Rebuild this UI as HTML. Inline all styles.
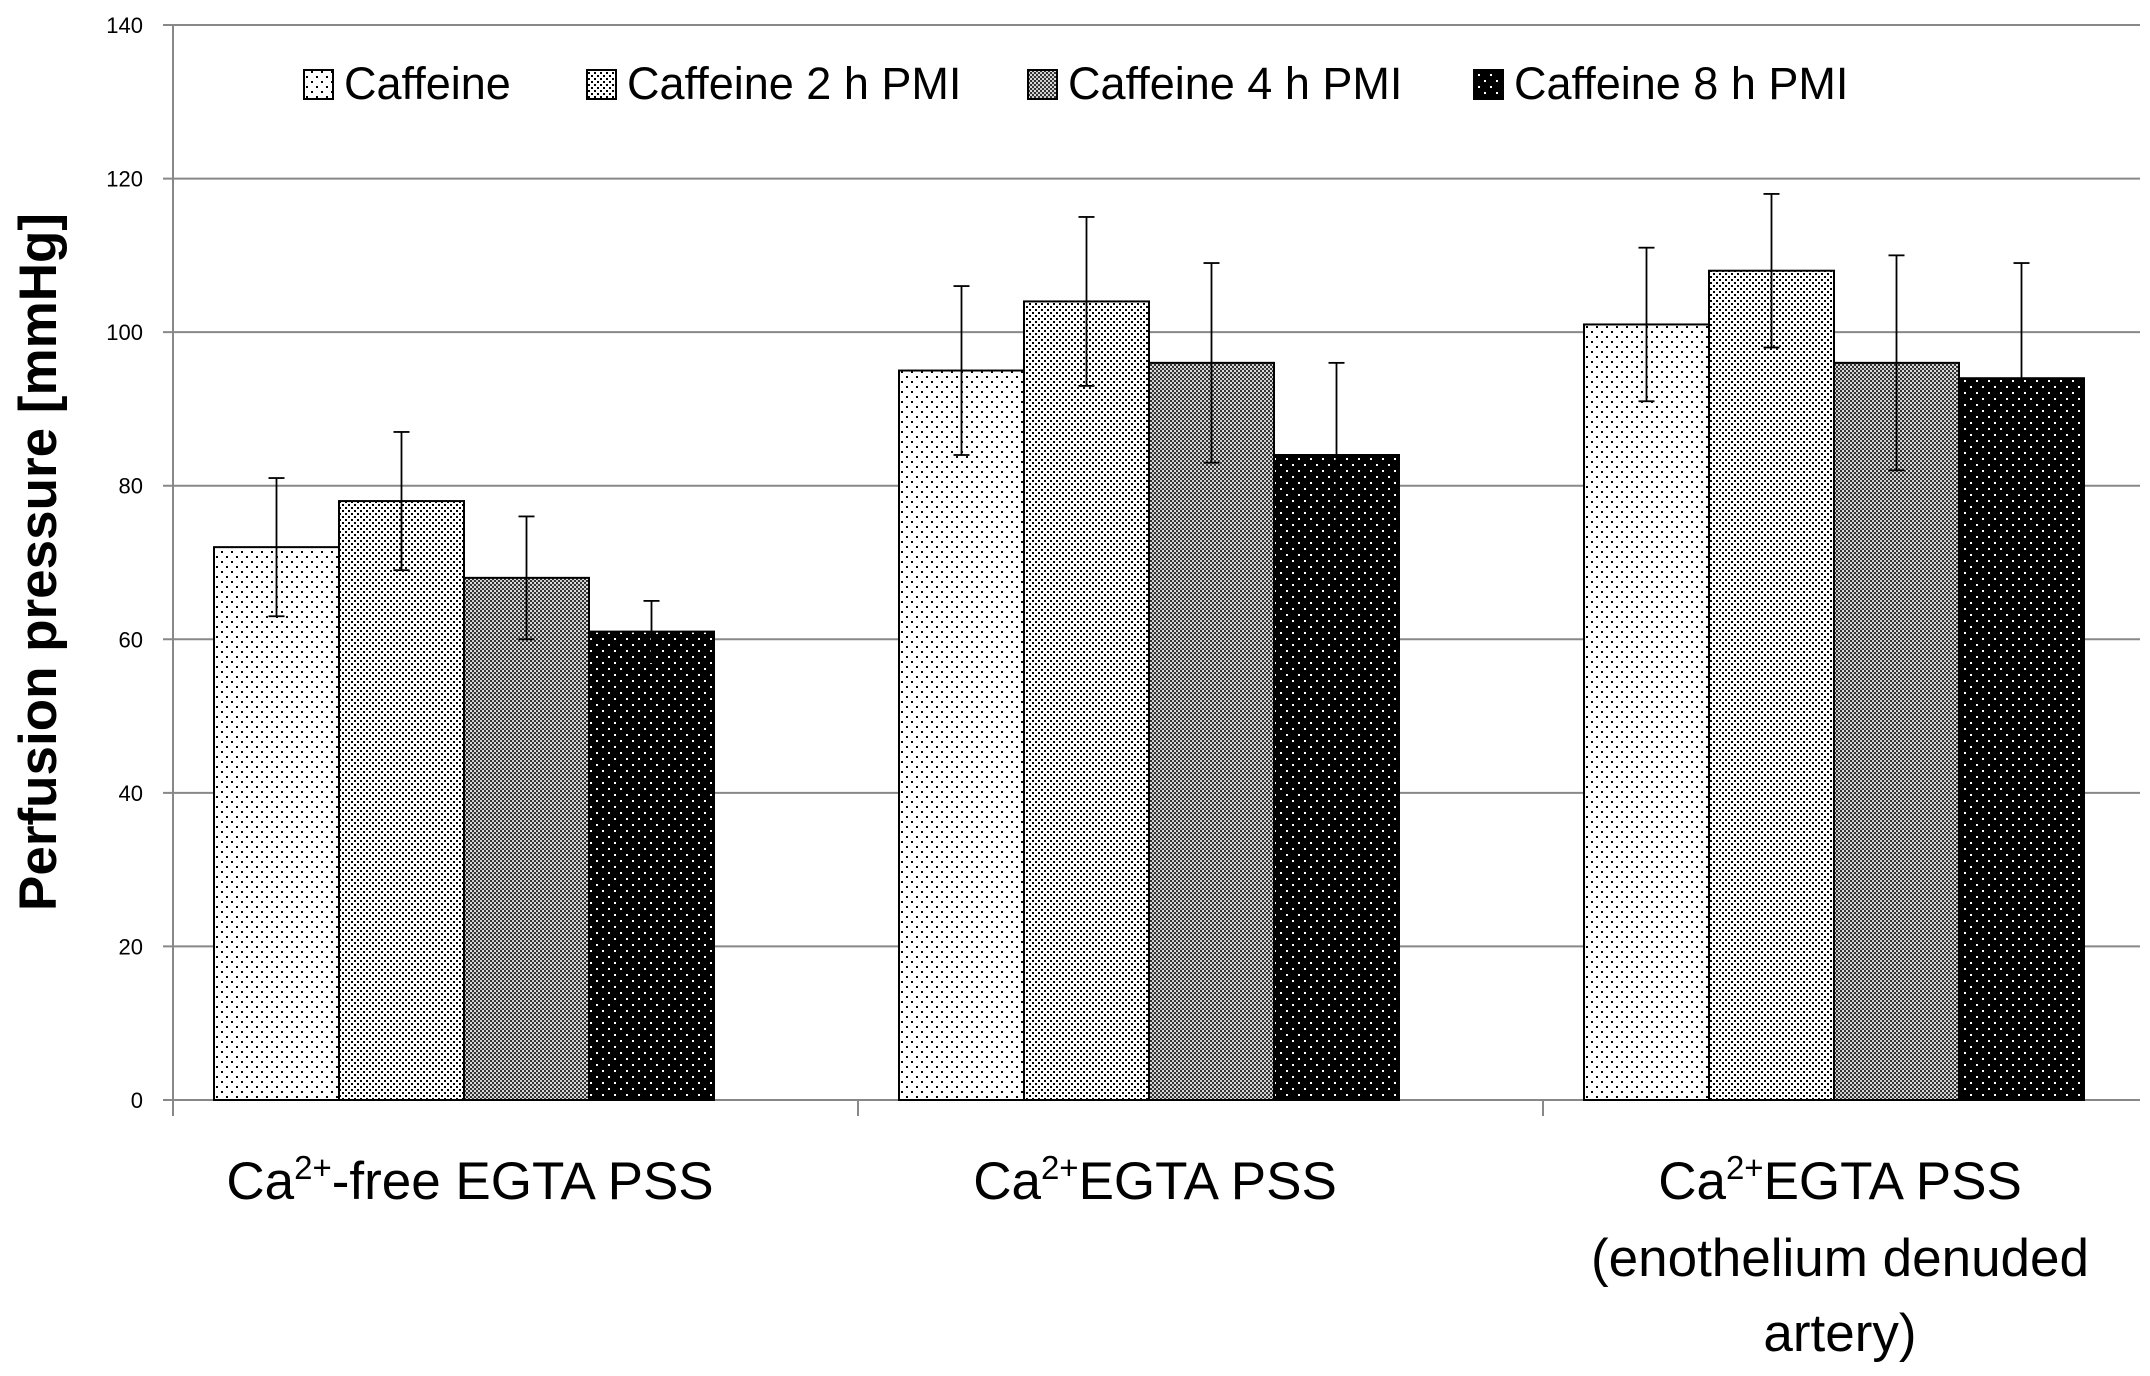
<!DOCTYPE html>
<html><head><meta charset="utf-8"><style>
body{margin:0;background:#fff}
svg{display:block;font-family:"Liberation Sans",sans-serif}
</style></head><body>
<svg id="chart" width="2150" height="1376" viewBox="0 0 2150 1376" xmlns="http://www.w3.org/2000/svg">
<defs>
<pattern id="p0" width="10" height="10" patternUnits="userSpaceOnUse"><rect width="10" height="10" fill="#fff"/><rect x="1" y="1" width="2" height="2" fill="#000"/><rect x="6" y="6" width="2" height="2" fill="#000"/></pattern>
<pattern id="p1" width="6" height="6" patternUnits="userSpaceOnUse"><rect width="6" height="6" fill="#fff"/><rect x="0" y="0" width="2" height="2" fill="#000"/><rect x="3" y="3" width="2" height="2" fill="#000"/></pattern>
<pattern id="p2" width="4" height="4" patternUnits="userSpaceOnUse"><rect width="4" height="4" fill="#333"/><rect x="0" y="0" width="2" height="2" fill="#ccc"/><rect x="2" y="2" width="2" height="2" fill="#ddd"/></pattern>
<pattern id="p3" width="12" height="12" patternUnits="userSpaceOnUse"><rect width="12" height="12" fill="#000"/><rect x="2" y="2" width="2" height="2" fill="#fff"/><rect x="8" y="8" width="2" height="2" fill="#fff"/></pattern>
</defs>
<g id="grid"></g><g id="bars"></g><g id="axes"></g>
<text transform="translate(56,562) rotate(-90)" text-anchor="middle" font-size="53" font-weight="bold">Perfusion pressure [mmHg]</text>
<g font-size="53" text-anchor="middle">
<text x="470" y="1199">Ca<tspan font-size="33" dy="-20">2+</tspan><tspan dy="20">-free EGTA PSS</tspan></text></g>
<g font-size="53" text-anchor="middle">
<text x="1155" y="1199">Ca<tspan font-size="33" dy="-20">2+</tspan><tspan dy="20">EGTA PSS</tspan></text></g>
<g font-size="53" text-anchor="middle">
<text x="1840" y="1199">Ca<tspan font-size="33" dy="-20">2+</tspan><tspan dy="20">EGTA PSS</tspan></text>
<text x="1840" y="1276">(enothelium denuded</text>
<text x="1840" y="1351">artery)</text></g>
<g id="legend" font-size="45"></g>
</svg>
<script>
const categories=["Ca2+-free EGTA PSS","Ca2+EGTA PSS","Ca2+EGTA PSS (enothelium denuded artery)"];
const seriesNames=["Caffeine","Caffeine 2 h PMI","Caffeine 4 h PMI","Caffeine 8 h PMI"];
const s0=[72,95,101];
const s1=[78,104,108];
const s2=[68,96,96];
const s3=[61,84,94];
const e0=[9,11,10];
const e1=[9,11,10];
const e2=[8,13,14];
const e3=[4,12,15];
const yTicks=[0,20,40,60,80,100,120,140];
const series=[s0,s1,s2,s3], errs=[e0,e1,e2,e3];
const NS="http://www.w3.org/2000/svg";
const x0=173,catW=685,y0=1100,yTop=25,yMax=140;
const Y=v=>y0-(y0-yTop)*v/yMax;
const barW=125,off=41;
function mk(t,a,p){const e=document.createElementNS(NS,t);for(const k in a)e.setAttribute(k,a[k]);p.appendChild(e);return e;}
const grid=document.getElementById('grid'),bars=document.getElementById('bars'),axes=document.getElementById('axes'),leg=document.getElementById('legend');
yTicks.forEach(t=>{
 const l=mk('line',{x1:x0-10,x2:2140,y1:Y(t),y2:Y(t),stroke:'#888','stroke-width':2},grid);
 
 
 const tx=mk('text',{x:143,y:Y(t)+8,'text-anchor':'end','font-size':22},axes);
 tx.textContent=t;
 
 
});
mk('line',{x1:x0,x2:x0,y1:yTop,y2:y0+16,stroke:'#888','stroke-width':2},axes);
for(let c=1;c<=3;c++){mk('line',{x1:x0+c*catW,x2:x0+c*catW,y1:y0,y2:y0+16,stroke:'#888','stroke-width':2},axes);}
categories.forEach((cat,c)=>{
 series.forEach((s,i)=>{
  const x=x0+c*catW+off+i*barW, v=s[c];
  const r=mk('rect',{x:x,y:Y(v),width:barW,height:y0-Y(v),fill:'url(#p'+i+')',stroke:'#000','stroke-width':2},bars);
  
  
  const cx=x+barW/2,e=errs[i][c];
  const g=mk('g',{stroke:'#000','stroke-width':1.8},bars);
  
  
  mk('line',{x1:cx,x2:cx,y1:Y(v+e),y2:Y(v-e)},g);
  mk('line',{x1:cx-8,x2:cx+8,y1:Y(v+e),y2:Y(v+e)},g);
  mk('line',{x1:cx-8,x2:cx+8,y1:Y(v-e),y2:Y(v-e)},g);
 });
});
const lx=[304,587,1028,1474];
seriesNames.forEach((n,i)=>{
 const g=mk('g',{},leg);
 
 
 mk('rect',{x:lx[i],y:70,width:29,height:29,fill:'url(#p'+i+')',stroke:'#000','stroke-width':2},g);
 const t=mk('text',{x:lx[i]+40,y:99},g);t.textContent=n;
});
</script>
</body></html>
